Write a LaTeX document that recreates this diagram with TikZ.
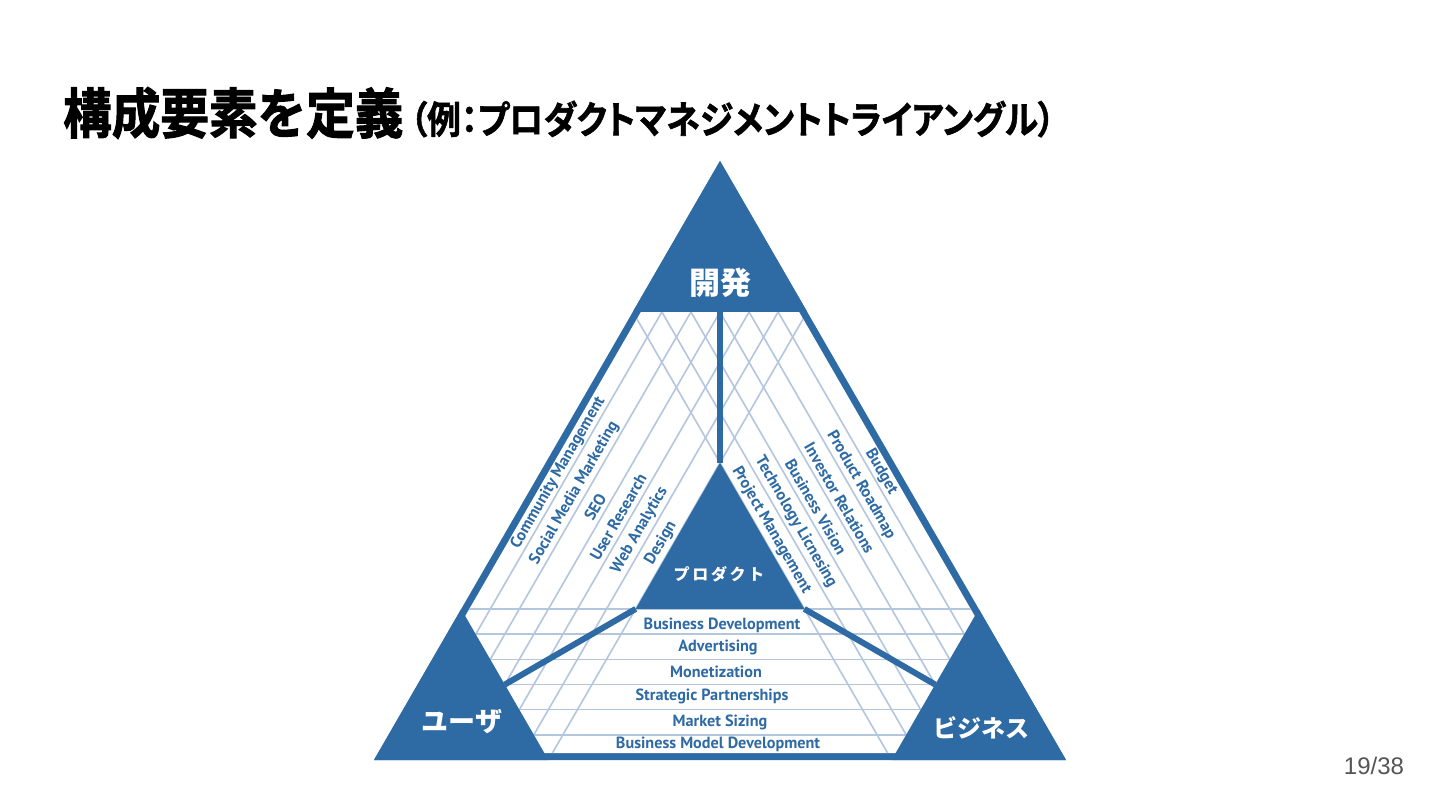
\documentclass[tikz,border=0pt]{standalone}
\usepackage{fontspec}
\usetikzlibrary{calc}
\newfontfamily\jp{Noto Sans CJK JP}
\newfontfamily\jpbold[FakeBold=2]{Noto Sans CJK JP Bold}
\newfontfamily\jptbold[RawFeature=+palt,FakeBold=1.5]{Noto Sans CJK JP Bold}
\newfontfamily\lab{PT Sans}
\newfontfamily\pg{Liberation Sans}
\definecolor{dkblue}{HTML}{2E6AA4}
\definecolor{ltline}{HTML}{B4C6DE}
\definecolor{pggray}{HTML}{555555}
\tikzset{
  darkfill/.style={fill=dkblue, draw=none},
  gridline/.style={draw=ltline, line width=1.6pt},
  radial/.style={draw=dkblue, line width=6pt},
  labelfont/.style={font=\lab\bfseries\fontsize{16.2}{16.2}\selectfont, text=dkblue, inner sep=0pt},
  leftlabel/.style={labelfont, rotate=60},
  rightlabel/.style={labelfont, rotate=-60},
  rowlabel/.style={labelfont},
  cornerlabel/.style={font=\jp\bfseries\fontsize{27}{27}\selectfont, text=white, inner sep=0pt},
}
\begin{document}
\begin{tikzpicture}[x=1pt,y=-1pt]
\useasboundingbox (0,0) rectangle (1440,810);
\fill[white] (0,0) rectangle (1440,810);
% main vertices
\coordinate (A) at (720,161);
\coordinate (B) at (374,760);
\coordinate (C) at (1066,760);
\coordinate (G) at (720,560.2);
% corner triangles
\coordinate (ATL) at (632.8,311.9);
\coordinate (ATR) at (807.2,311.9);
\coordinate (BLR) at (548.4,760);
\coordinate (BLT) at (461.2,609.1);
\coordinate (CRL) at (891.6,760);
\coordinate (CRT) at (978.8,609.1);
% center triangle
\coordinate (P) at (720,462.8);
\coordinate (PL) at (635.7,608.9);
\coordinate (PR) at (804.3,608.9);
% midpoints of inner edges
\coordinate (MT) at (720,311.9);
\coordinate (ML) at (504.8,684.55);
\coordinate (MR) at (935.2,684.55);
% inset
\coordinate (Ai) at ($(G)!0.965!(A)$);
\coordinate (Bi) at ($(G)!0.965!(B)$);
\coordinate (Ci) at ($(G)!0.965!(C)$);

\fill[darkfill] (A) -- (B) -- (C) -- cycle;
\fill[white] (Ai) -- (Bi) -- (Ci) -- cycle;
\begin{scope}
\clip (Ai) -- (Bi) -- (Ci) -- cycle;
\foreach \i in {1,...,6}{
  \pgfmathsetmacro{\h}{\i*29.06}
  \pgfmathsetmacro{\v}{760-\i*25.17}
  \draw[gridline] ({304.8+\h},879.8) -- ({789.2+\h},41.2);
  \draw[gridline] ({1135.2-\h},879.8) -- ({650.8-\h},41.2);
  \draw[gridline] (300,\v) -- (1140,\v);
}
\end{scope}
% corner and center triangles
\fill[darkfill] (A) -- (ATL) -- (ATR) -- cycle;
\fill[darkfill] (B) -- (BLR) -- (BLT) -- cycle;
\fill[darkfill] (C) -- (CRL) -- (CRT) -- cycle;
\fill[darkfill] (P) -- (PL) -- (PR) -- cycle;
% radial thick lines
\draw[radial] (MT) -- (P);
\draw[radial] (PL) -- (ML);
\draw[radial] (PR) -- (MR);

% corner labels
\node[font=\jp\bfseries\fontsize{31}{31}\selectfont, text=white, inner sep=0pt] (dev) at (720,283) {開発};
\node[cornerlabel] (user) at (462,722) {ユーザ};
\node[cornerlabel, font=\jp\bfseries\fontsize{24}{24}\selectfont] (biz) at (981,728) {ビジネス};
\node[font=\jp\bfseries\fontsize{16}{16}\selectfont, text=white, inner sep=0pt] (prod) at (719,574) {プ\,ロ\,ダ\,ク\,ト};

% left labels
\node[leftlabel] (l1) at ({374+(760-473)*0.5776+18.5},473) {Community Management};
\node[leftlabel] (l2) at ({374+(760-493)*0.5776+46.2},493) {Social Media Marketing};
\node[leftlabel] (l3) at ({374+(760-507)*0.5776+75.1},507) {SEO};
\node[leftlabel] (l4) at ({374+(760-517)*0.5776+103.9},517) {User Research};
\node[leftlabel] (l5) at ({374+(760-530)*0.5776+132.8},530) {Web Analytics};
\node[leftlabel] (l6) at ({374+(760-543)*0.5776+161.7},543) {Design};
% right labels
\node[rightlabel] (r1) at ({1066-(760-472)*0.5776-18.5},472) {Budget};
\node[rightlabel] (r2) at ({1066-(760-485)*0.5776-46.2},485) {Product Roadmap};
\node[rightlabel] (r3) at ({1066-(760-498)*0.5776-75.1},498) {Investor Relations};
\node[rightlabel] (r4) at ({1066-(760-507)*0.5776-103.9},507) {Business Vision};
\node[rightlabel] (r5) at ({1066-(760-522)*0.5776-132.8},522) {Technology Licnesing};
\node[rightlabel] (r6) at ({1066-(760-530)*0.5776-161.7},530) {Project Management};
% row labels
\node[rowlabel] (b1) at (722,625) {Business Development};
\node[rowlabel] (b2) at (718,647) {Advertising};
\node[rowlabel] (b3) at (716,672) {Monetization};
\node[rowlabel] (b4) at (712,696.5) {Strategic Partnerships};
\node[rowlabel] (b5) at (720,722) {Market Sizing};
\node[rowlabel] (b6) at (718,744) {Business Model Development};

% title
\node[anchor=west, inner sep=0pt, font=\jpbold\fontsize{54}{54}\selectfont] (title) at (63,113) {\scalebox{0.9}[1]{構成要素を定義}};
\node[anchor=west, inner sep=0pt, font=\jptbold\fontsize{38}{38}\selectfont] (subtitle) at (410,119) {\scalebox{0.89}[1]{（例：プロダクトマネジメントトライアングル）}};
% page number
\node[font=\pg\fontsize{24}{24}\selectfont, text=pggray, inner sep=0pt] (page) at (1374,766) {19/38};
\end{tikzpicture}
\end{document}
